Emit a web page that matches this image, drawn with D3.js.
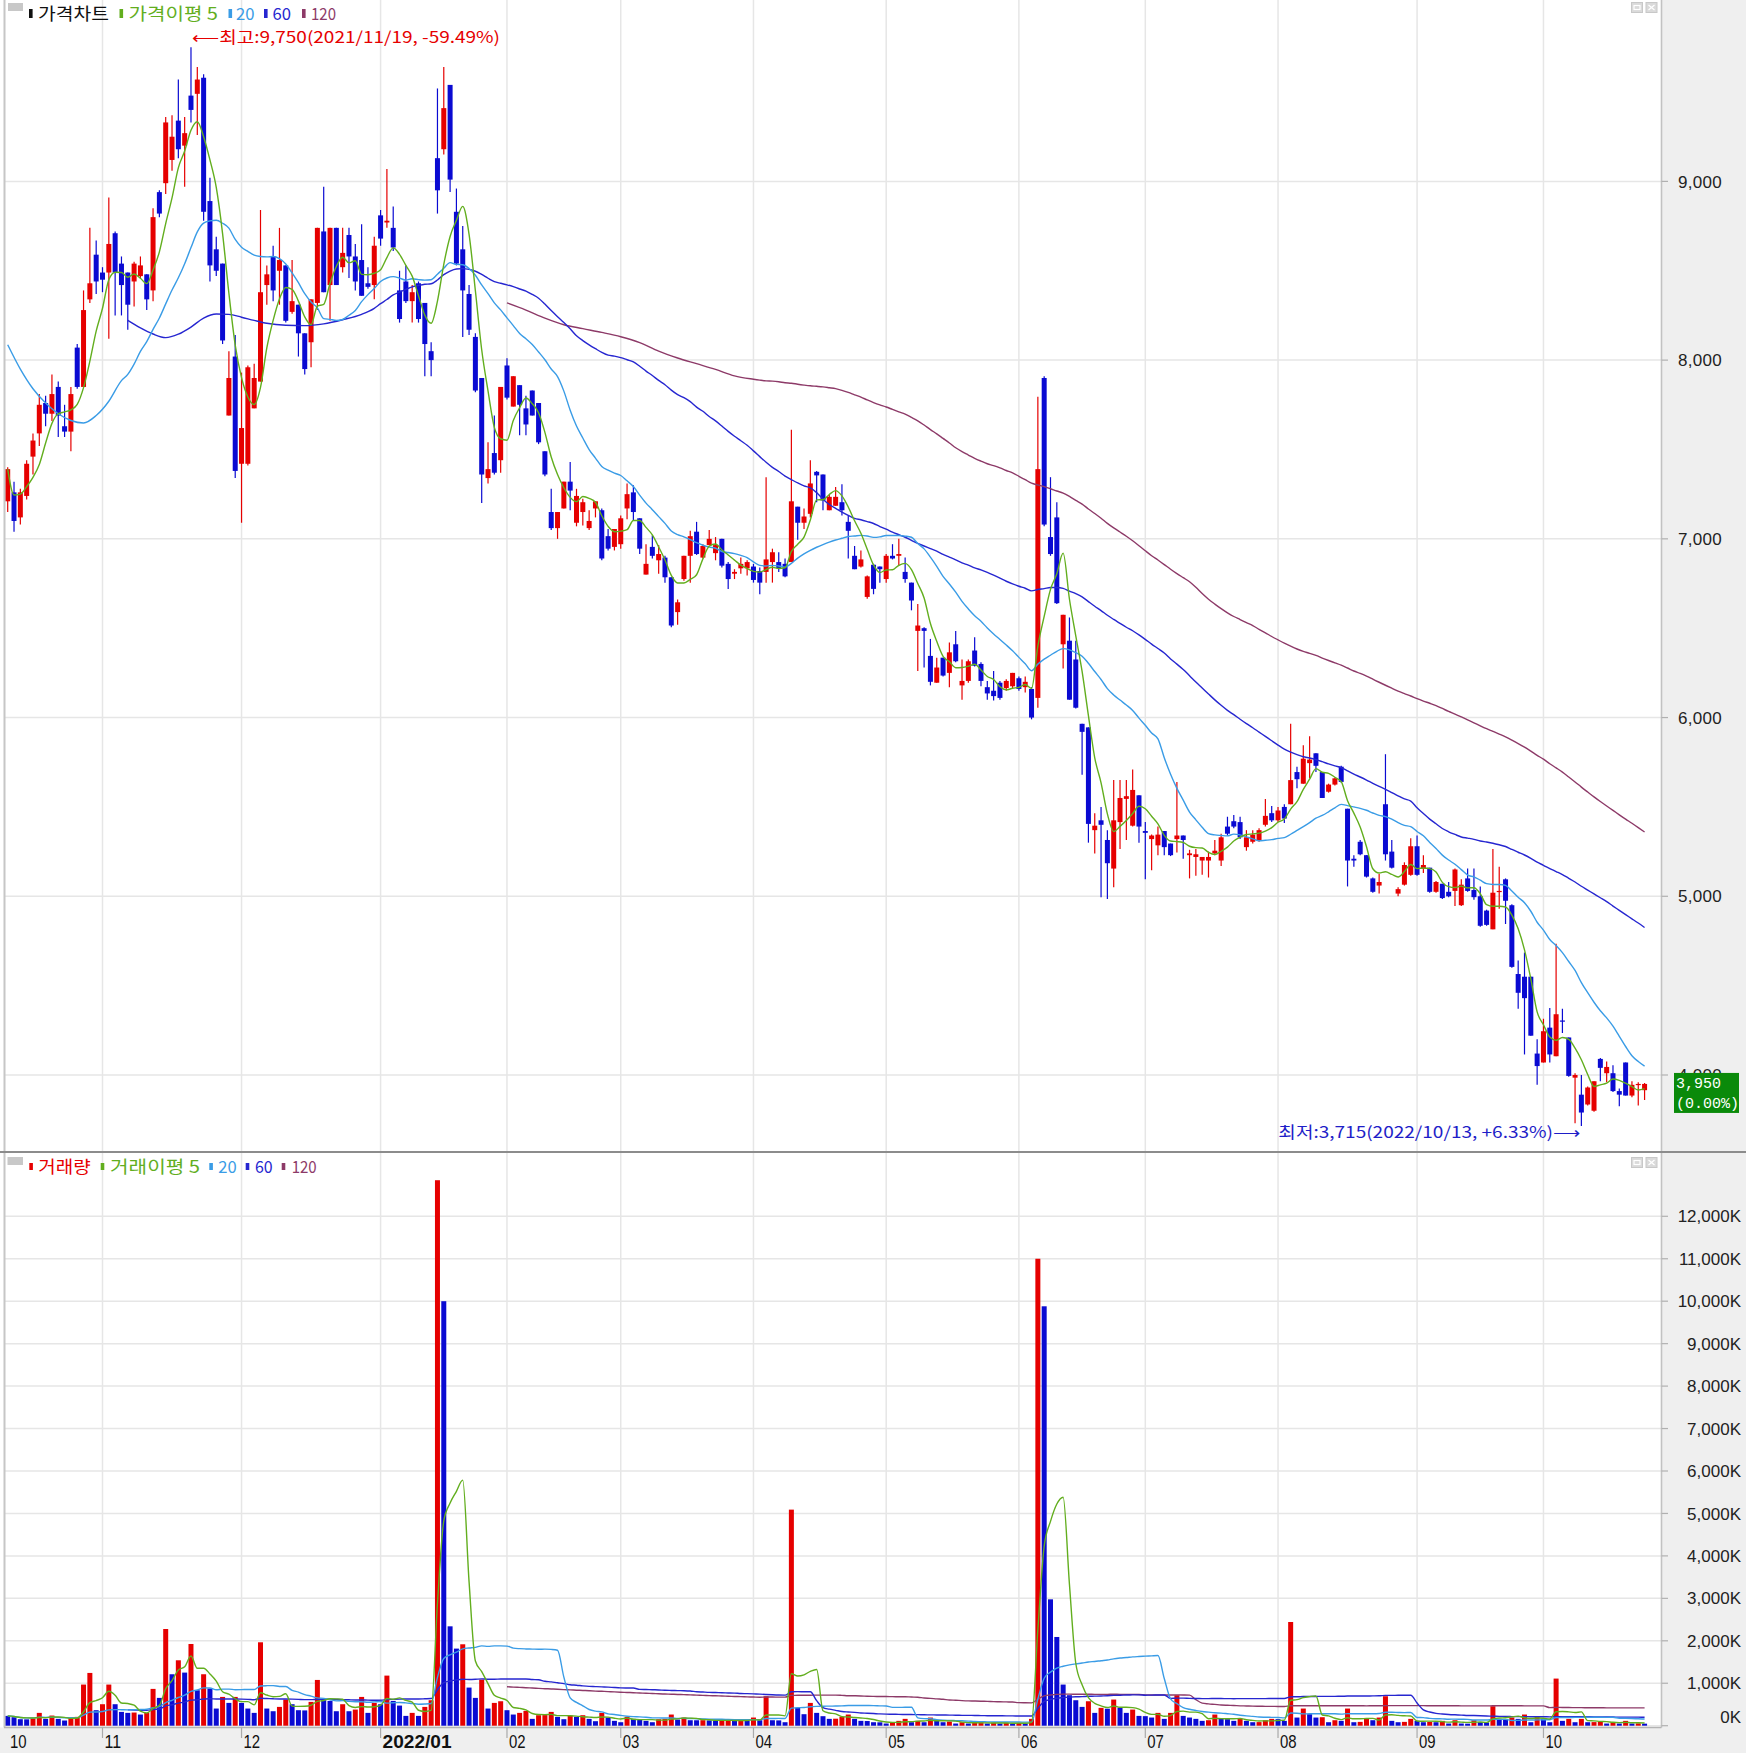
<!DOCTYPE html>
<html>
<head>
<meta charset="utf-8">
<script src="https://cdn.jsdelivr.net/npm/d3@7"></script>
<style>
  html, body { margin: 0; padding: 0; background: #ffffff; }
  svg { display: block; }
</style>
</head>
<body>
<svg id="chart" width="1746" height="1753"></svg>
<script>
// ---- daily candles, 2021/10/08 .. 2022/10/27 (one entry per trading day) ----
const open = [
  7210,7260,7120,7240,7460,7590,7760,7700,7850,7630, 7600,8070,7850,8340,8590,8490,8490,8710,8540,8490,
  8440,8470,8480,8390,8940,8990,9120,9340,9200,9480, 9490,9580,8890,8620,8540,7690,8020,7420,7420,7730,
  7880,8420,8580,8500,8530,8270,8310,8150,8100,8320, 8720,8420,8740,8520,8700,8580,8560,8430,8420,8810,
  8770,8740,8390,8440,8330,8430,8320,8050,9130,9180, 9540,8830,8620,8370,8130,7900,7340,7480,7440,7970,
  7740,7860,7730,7830,7760,7490,7150,7060,7170,7320, 7090,7150,7060,7170,7160,7015,6955,6970,7170,7260,
  7115,6800,6955,6880,6895,6785,6590,6775,6905,7040, 6895,6965,6920,7000,6860,6805,6835,6835,6845,6820,
  6815,6870,6870,6860,6870,7180,7090,7140,7375,7360, 7160,7185,7205,7095,6905,6845,6675,6855,6845,6775,
  6905,6905,6815,6755,6485,6500,6345,6195,6335,6250, 6410,6180,6205,6375,6300,6170,6150,6195,6165,6175,
  6220,6170,6160,6110,7900,7010,7120,6410,6430,6325, 5965,5945,5370,5425,5315,5155,5415,5545,5395,5565,
  5365,5320,5285,5365,5295,5320,5340,5230,5220,5200, 5200,5240,5200,5390,5420,5415,5275,5305,5315,5400,
  5465,5425,5500,5515,5695,5630,5745,5800,5695,5585, 5625,5725,5490,5210,5305,5230,5100,5060,5515,5250,
  5015,5065,5120,5280,5155,5160,5025,5070,5025,5030, 4950,5100,5035,5000,4920,4815,5025,5095,4950,4565,
  4550,4550,4120,4070,4265,4105,4305,4210,3985,3890, 3835,3800,4090,4010,4010,3910,4070,3885,3945,3915
];
const high = [
  7400,7320,7280,7440,7590,7810,7800,7920,7880,7750, 7850,8090,8390,8740,8670,8520,8910,8720,8580,8490,
  8550,8580,8480,8850,8950,9360,9370,9570,9360,9750, 9640,9600,9020,8690,8540,8050,8140,7930,7970,7980,
  8840,8530,8640,8740,8530,8560,8310,8150,8340,8740, 8970,8740,8740,8740,8740,8650,8760,8520,8690,8840,
  9070,8860,8500,8530,8420,8440,8320,8100,9520,9640, 9540,8960,8750,8420,8150,7900,7540,7690,7850,8010,
  7910,7860,7800,7830,7760,7490,7280,7150,7320,7430, 7280,7225,7160,7210,7170,7055,7055,7130,7310,7300,
  7115,6970,7020,6965,6905,6785,6660,6905,7045,7095, 6970,7050,7010,7000,6870,6830,6895,6880,6860,6840,
  7345,6945,6925,6890,7610,7180,7170,7440,7380,7360, 7245,7290,7305,7130,6960,6935,6795,6860,6845,6915,
  6970,7000,6895,6755,6635,6505,6440,6335,6335,6420, 6485,6325,6325,6450,6310,6205,6260,6205,6215,6250,
  6230,6230,6170,7795,7910,7345,7205,6575,6560,6430, 5965,5945,5465,5500,5370,5650,5650,5650,5710,5565,
  5415,5345,5390,5365,5295,5640,5340,5260,5265,5220, 5250,5315,5350,5445,5455,5445,5370,5370,5380,5545,
  5505,5500,5515,5965,5725,5845,5895,5800,5695,5630, 5665,5730,5490,5230,5315,5230,5105,5125,5795,5315,
  5050,5190,5325,5340,5230,5160,5085,5070,5080,5155, 5095,5155,5155,5055,4925,5265,5165,5100,4955,4640,
  4685,4550,4200,4315,4375,4735,4370,4210,4010,4000, 3935,3965,4095,4075,4055,3925,4070,3965,3960,3955
];
const low = [
  7150,7040,7080,7220,7360,7520,7630,7660,7570,7570, 7490,7840,7850,8320,8370,8380,8120,8250,8250,8170,
  8300,8460,8280,8330,8800,8930,9060,9130,8970,9330, 9260,8780,8440,8470,8090,7690,7340,7090,7410,7730,
  7880,8310,8330,8310,8210,8260,8020,7920,7960,8280, 8380,8220,8420,8490,8460,8390,8360,8400,8340,8640,
  8740,8610,8210,8320,8210,8210,7910,7910,8820,9150, 8940,8530,8130,8140,7820,7200,7310,7360,7370,7780,
  7740,7580,7580,7690,7530,7350,7050,7000,7170,7160, 7070,7075,7050,7120,6880,6935,6935,6945,7110,7100,
  6915,6800,6890,6805,6755,6505,6520,6765,6755,6910, 6890,6965,6880,6840,6720,6775,6805,6795,6755,6690,
  6755,6755,6815,6785,6870,6995,7055,7120,7205,7160, 7160,7185,7130,6890,6830,6840,6665,6690,6755,6755,
  6885,6850,6755,6600,6260,6280,6180,6195,6230,6170, 6310,6100,6195,6285,6175,6100,6095,6100,6150,6165,
  6150,6140,5990,6055,7070,6905,6635,6275,6100,6050, 5680,5300,5240,4995,4985,5050,5265,5315,5390,5300,
  5095,5145,5230,5230,5225,5245,5210,5100,5115,5120, 5105,5230,5170,5340,5380,5320,5255,5295,5305,5390,
  5415,5415,5410,5515,5605,5630,5660,5695,5550,5580, 5620,5635,5055,5165,5230,5105,5020,5015,5200,5155,
  5000,5060,5115,5115,5130,5020,5020,4985,4995,4945, 4945,5025,4980,4830,4835,4815,4930,4845,4600,4370,
  4115,4220,3945,4070,4070,4105,4235,3990,3730,3715, 3830,3795,3965,3960,3905,3825,3885,3875,3830,3860
];
const close = [
  7390,7100,7260,7420,7550,7750,7700,7810,7690,7600, 7810,7850,8280,8430,8440,8450,8650,8490,8420,8310,
  8540,8530,8340,8800,8820,9330,9250,9180,9270,9400, 9570,8830,8530,8500,8110,7900,7380,7620,7960,7900,
  8380,8480,8390,8560,8220,8330,8150,7950,8340,8740, 8380,8740,8420,8600,8580,8440,8360,8410,8640,8680,
  8780,8630,8230,8330,8380,8230,8090,8000,8950,9410, 9010,8540,8390,8170,7830,7360,7390,7370,7850,7790,
  7910,7750,7640,7690,7540,7360,7060,7150,7320,7270, 7240,7205,7100,7210,6890,6945,7055,7115,7250,7150,
  6945,6860,6905,6915,6785,6515,6645,6905,7015,6915, 6960,7000,6965,6850,6775,6815,6860,6870,6770,6755,
  6885,6925,6835,6790,7210,7090,7125,7310,7355,7215, 7235,7235,7160,7045,6830,6885,6790,6720,6830,6905,
  6890,6915,6775,6655,6515,6485,6200,6280,6235,6365, 6315,6205,6315,6290,6205,6135,6120,6110,6205,6250,
  6160,6200,6000,7390,7080,6915,6640,6575,6100,6055, 5920,5405,5395,5400,5185,5425,5550,5560,5595,5390,
  5355,5340,5345,5275,5230,5340,5315,5240,5235,5220, 5220,5255,5330,5350,5390,5330,5330,5345,5370,5450,
  5425,5480,5435,5650,5655,5770,5765,5730,5550,5625, 5660,5640,5200,5200,5235,5110,5025,5080,5235,5160,
  5040,5175,5280,5120,5175,5025,5080,4990,5000,5150, 5065,5030,4995,4835,4840,5020,5030,4975,4605,4460,
  4430,4220,4050,4245,4115,4340,4300,3995,4000,3790, 3930,3965,4040,4045,3910,3890,3885,3945,3950,3950
];
// traded volume, thousands of shares
const volume = [
  231,200,153,150,169,302,161,239,161,122, 176,208,969,1243,365,506,969,506,325,302,
  310,263,302,867,655,2278,1212,1541,1251,1925, 835,1212,875,404,678,537,678,537,404,302,
  1965,404,341,443,616,506,365,360,561,1078, 600,584,341,506,341,380,678,302,537,506,
  1180,584,474,231,302,231,443,600,12850,10000, 2341,1816,1918,898,655,1086,404,537,576,365,
  263,302,349,161,247,250,325,208,153,239, 208,247,161,106,302,192,114,82,208,161,
  145,114,82,153,161,263,145,192,129,128, 130,125,114,129,135,114,129,114,192,129,
  694,129,125,82,5090,427,271,537,302,224, 161,165,208,263,161,114,110,82,80,51,
  67,114,161,82,114,82,192,114,82,98, 51,82,51,67,82,51,67,51,67,51,
  67,51,161,11000,9880,2977,2090,969,718,600, 443,576,302,420,400,616,427,302,380,231,
  225,192,302,161,302,718,231,192,161,114, 129,263,161,155,114,161,114,82,85,129,
  161,155,114,2443,192,404,271,192,200,82, 129,114,404,82,90,161,129,192,694,114,
  82,90,161,114,82,90,82,114,51,129, 51,48,129,82,78,459,161,155,192,161,
  263,82,208,161,82,1110,114,161,82,161, 82,85,98,51,82,51,114,51,55,48
];

// month boundaries (index of first trading day) and their axis labels
const monthStart = [15, 37, 59, 79, 97, 118, 139, 160, 180, 201, 223, 243];
const monthLabel = ["11", "12", "2022/01", "02", "03", "04", "05", "06", "07", "08", "09", "10"];
const firstMonthLabel = "10";
const yearMonthLabel = "2022/01";

const priceTicks = [4000, 5000, 6000, 7000, 8000, 9000];
const volumeTicks = [0, 1000, 2000, 3000, 4000, 5000, 6000, 7000, 8000, 9000, 10000, 11000, 12000];

// moving-average values before a full window of history is on screen: [index, value]
const ma20Lead = [[0, 8086], [2, 7950], [4, 7840], [6, 7760], [8, 7700], [10, 7662], [12, 7648], [14, 7690], [16, 7770], [18, 7885]];
const ma60Lead = [[19, 8222], [21, 8180], [23, 8146], [25, 8126], [27, 8145], [29, 8185], [31, 8235], [33, 8258], [35, 8256],
                  [37, 8240], [39, 8222], [41, 8206], [44, 8195], [47, 8193], [50, 8203], [53, 8226], [56, 8256], [58, 8290]];
const ma120Lead = [[79, 8320], [82, 8280], [85, 8235], [88, 8198], [91, 8176], [94, 8155], [97, 8131], [100, 8098],
                   [103, 8050], [106, 8012], [109, 7980], [112, 7948], [115, 7912], [118, 7893]];

const highIndex = 29, highValue = 9750, highDate = "2021/11/19", highPct = "-59.49%";
const lowIndex = 249, lowValue = 3715, lowDate = "2022/10/13", lowPct = "+6.33%";
const lastPct = "0.00%";

// ---- colours ----
const UP = "#e60000", DOWN = "#0a0ad2";
const C_MA5 = "#62ae1e", C_MA20 = "#3a9ce6", C_MA60 = "#2626d0", C_MA120 = "#8d3a68";
const GRID = "#e6e6e6", AXIS_BG = "#efefef";

const svg = d3.select("#chart");
const fmt = d3.format(",");

// ---- scales ----
const n = close.length;
const x = d3.scaleLinear().domain([0, n - 1]).range([7.7, 7.7 + 6.32 * (n - 1)]);
const yP = d3.scaleLinear().domain([4000, 9000]).range([1075, 181.4]);
const yV = d3.scaleLinear().domain([0, 12000]).range([1725.7, 1216.3]);

const plotL = 5, plotR = 1661.5;
const priceB = 1151, volT = 1153, volB = 1727.5;

// ---- backgrounds and frame ----
svg.append("rect").attr("x", 0).attr("y", 0).attr("width", 1746).attr("height", 1753).attr("fill", "#ffffff");
svg.append("rect").attr("x", plotR).attr("y", 0).attr("width", 1746 - plotR).attr("height", 1753).attr("fill", AXIS_BG);
svg.append("rect").attr("x", 0).attr("y", volB).attr("width", 1746).attr("height", 1753 - volB).attr("fill", AXIS_BG);

const grid = svg.append("g").attr("stroke", GRID).attr("stroke-width", 1.5);
// month grid lines
monthStart.forEach(i => {
  grid.append("line").attr("x1", x(i)).attr("x2", x(i)).attr("y1", 0).attr("y2", priceB);
  grid.append("line").attr("x1", x(i)).attr("x2", x(i)).attr("y1", volT).attr("y2", volB);
});
// price grid
priceTicks.forEach(v => grid.append("line").attr("x1", plotL).attr("x2", plotR).attr("y1", yP(v)).attr("y2", yP(v)));
// volume grid
volumeTicks.forEach(v => grid.append("line").attr("x1", plotL).attr("x2", plotR).attr("y1", yV(v)).attr("y2", yV(v)));

// ---- price panel: candles ----
const priceClip = svg.append("clipPath").attr("id", "pclip");
priceClip.append("rect").attr("x", plotL).attr("y", 0).attr("width", plotR - plotL).attr("height", priceB);
const pg = svg.append("g").attr("clip-path", "url(#pclip)");

function candleColor(i) {
  if (close[i] > open[i]) return UP;
  if (close[i] < open[i]) return DOWN;
  return (i > 0 && close[i] < close[i - 1]) ? DOWN : UP;
}
const idx = d3.range(n);
pg.append("g").selectAll("line").data(idx).join("line")
  .attr("x1", i => x(i)).attr("x2", i => x(i))
  .attr("y1", i => yP(high[i])).attr("y2", i => yP(low[i]))
  .attr("stroke", candleColor).attr("stroke-width", 1.2);
pg.append("g").selectAll("rect").data(idx).join("rect")
  .attr("x", i => x(i) - 2.5).attr("width", 5)
  .attr("y", i => yP(Math.max(open[i], close[i])))
  .attr("height", i => Math.max(1.2, Math.abs(yP(open[i]) - yP(close[i]))))
  .attr("fill", candleColor);

// ---- moving averages ----
function maSeries(values, len, from, lead) {
  const pts = lead ? lead.slice() : [];
  for (let i = from; i < values.length; i++) {
    if (i < len - 1 && lead) continue;
    const a = Math.max(0, i - len + 1);
    pts.push([i, d3.mean(values.slice(a, i + 1))]);
  }
  return pts;
}
const lineP = d3.line().x(d => x(d[0])).y(d => yP(d[1])).curve(d3.curveMonotoneX);
const lineV = d3.line().x(d => x(d[0])).y(d => yV(d[1])).curve(d3.curveMonotoneX);

[[maSeries(close, 120, 79, ma120Lead), C_MA120],
 [maSeries(close, 60, 19, ma60Lead), C_MA60],
 [maSeries(close, 20, 0, ma20Lead), C_MA20],
 [maSeries(close, 5, 0, null), C_MA5]].forEach(([pts, c]) => {
  pg.append("path").attr("d", lineP(pts)).attr("fill", "none").attr("stroke", c).attr("stroke-width", 1.4);
});

// ---- volume panel ----
const vg = svg.append("g");
function volColor(i) { return (i > 0 && volume[i] > volume[i - 1]) ? UP : DOWN; }
vg.append("g").selectAll("rect").data(idx).join("rect")
  .attr("x", i => x(i) - 2.5).attr("width", 5)
  .attr("y", i => yV(volume[i]))
  .attr("height", i => yV(0) - yV(volume[i]))
  .attr("fill", volColor);

[[maSeries(volume, 120, 79, null), C_MA120],
 [maSeries(volume, 60, 19, null), C_MA60],
 [maSeries(volume, 20, 0, null), C_MA20],
 [maSeries(volume, 5, 0, null), C_MA5]].forEach(([pts, c]) => {
  vg.append("path").attr("d", lineV(pts)).attr("fill", "none").attr("stroke", c).attr("stroke-width", 1.4);
});

// ---- frame lines ----
svg.append("line").attr("x1", 4.5).attr("x2", 4.5).attr("y1", 0).attr("y2", volB).attr("stroke", "#c6c6c6").attr("stroke-width", 2);
svg.append("line").attr("x1", plotR).attr("x2", plotR).attr("y1", 0).attr("y2", volB).attr("stroke", "#c2c2c2").attr("stroke-width", 1.6);
svg.append("line").attr("x1", 0).attr("x2", 1746).attr("y1", 1152).attr("y2", 1152).attr("stroke", "#8c8c8c").attr("stroke-width", 2);
svg.append("line").attr("x1", 4).attr("x2", plotR).attr("y1", volB).attr("y2", volB).attr("stroke", "#b4b4b4").attr("stroke-width", 1.5);

// ---- right axes ----
const ax = svg.append("g");
priceTicks.forEach(v => {
  ax.append("line").attr("x1", plotR).attr("x2", 1668).attr("y1", yP(v)).attr("y2", yP(v)).attr("stroke", "#b0b0b0").attr("stroke-width", 1.2);
  ax.append("text").attr("x", 1678).attr("y", yP(v)).attr("dy", "0.36em")
    .attr("font-family", "Liberation Sans, Arial, sans-serif").attr("font-size", 17).attr("fill", "#222")
    .attr("letter-spacing", "0.3").text(fmt(v));
});
volumeTicks.forEach(v => {
  ax.append("line").attr("x1", plotR).attr("x2", 1668).attr("y1", yV(v)).attr("y2", yV(v)).attr("stroke", "#b0b0b0").attr("stroke-width", 1.2);
  ax.append("text").attr("x", 1741).attr("y", Math.min(yV(v), 1717)).attr("dy", "0.36em").attr("text-anchor", "end")
    .attr("font-family", "Liberation Sans, Arial, sans-serif").attr("font-size", 17).attr("fill", "#222")
    .text(fmt(v) + "K");
});

// last price tag
const lastY = yP(close[n - 1]);
ax.append("rect").attr("x", 1674).attr("y", lastY - 11).attr("width", 65).attr("height", 40).attr("fill", "#0a8a0a");
ax.append("text").attr("x", 1676).attr("y", lastY - 1).attr("dy", "0.36em")
  .attr("font-family", "Liberation Mono, DejaVu Sans Mono, monospace").attr("font-size", 15).attr("fill", "#fff")
  .text(fmt(close[n - 1]));
ax.append("text").attr("x", 1676).attr("y", lastY + 18.5).attr("dy", "0.36em")
  .attr("font-family", "Liberation Mono, DejaVu Sans Mono, monospace").attr("font-size", 15).attr("fill", "#fff")
  .text("(" + lastPct + ")");

// ---- bottom month axis ----
const bx = svg.append("g").attr("font-family", "Liberation Sans, Arial, sans-serif").attr("fill", "#111");
monthStart.forEach((i, k) => {
  bx.append("line").attr("x1", x(i)).attr("x2", x(i)).attr("y1", volB).attr("y2", 1738).attr("stroke", "#aaa").attr("stroke-width", 1.2);
  const bold = monthLabel[k] === yearMonthLabel;
  bx.append("text").attr("x", x(i) + 2).attr("y", 1748)
    .attr("font-size", 19).attr("font-weight", bold ? "bold" : "normal")
    .attr("textLength", bold ? 69 : 8.3 * monthLabel[k].length).attr("lengthAdjust", "spacingAndGlyphs")
    .text(monthLabel[k]);
});
bx.append("text").attr("x", 10).attr("y", 1748).attr("font-size", 19)
  .attr("textLength", 16.6).attr("lengthAdjust", "spacingAndGlyphs").text(firstMonthLabel);

// ---- legends ----
const KR = "Noto Sans CJK KR, sans-serif";
function legend(y, items) {
  const g = svg.append("g");
  items.forEach(([mx, mh, tx, tw, label, color]) => {
    g.append("rect").attr("x", mx).attr("y", y - mh / 2).attr("width", 3.6).attr("height", mh).attr("fill", color);
    g.append("text").attr("x", tx).attr("y", y).attr("dy", "0.36em").attr("font-family", KR).attr("font-size", 17)
      .attr("fill", color).attr("textLength", tw).attr("lengthAdjust", "spacingAndGlyphs").text(label);
  });
}
svg.append("rect").attr("x", 8).attr("y", 3).attr("width", 15).attr("height", 8).attr("fill", "#c8c8c8");
legend(13.5, [
  [29, 9, 38, 71, "가격차트", "#111111"],
  [119.5, 9, 128.5, 89.5, "가격이평 5", C_MA5],
  [228.5, 9, 236, 18.5, "20", C_MA20],
  [264, 9, 272.5, 18.5, "60", C_MA60],
  [302, 9, 311, 25, "120", C_MA120]
]);
svg.append("rect").attr("x", 7.5).attr("y", 1157).attr("width", 15.5).attr("height", 8).attr("fill", "#c8c8c8");
legend(1166.5, [
  [29.3, 7, 38.3, 52.4, "거래량", UP],
  [100.7, 7, 110, 90, "거래이평 5", C_MA5],
  [209.3, 7, 218.3, 18.4, "20", C_MA20],
  [245.7, 7, 255, 17.7, "60", C_MA60],
  [281.7, 7, 291.7, 25, "120", C_MA120]
]);

// window buttons (top right of each panel)
function buttons(y0) {
  const g = svg.append("g");
  g.append("rect").attr("x", 1631.5).attr("y", y0).attr("width", 11).attr("height", 10).attr("fill", "#dadada").attr("stroke", "#c8c8c8");
  g.append("rect").attr("x", 1634).attr("y", y0 + 3).attr("width", 6).attr("height", 4).attr("fill", "none").attr("stroke", "#ffffff").attr("stroke-width", 1.2);
  g.append("rect").attr("x", 1646).attr("y", y0).attr("width", 11).attr("height", 10).attr("fill", "#dadada").attr("stroke", "#c8c8c8");
  g.append("path").attr("d", `M1648.5,${y0 + 2.5}L1654.5,${y0 + 7.5}M1654.5,${y0 + 2.5}L1648.5,${y0 + 7.5}`).attr("stroke", "#ffffff").attr("stroke-width", 1.3);
}
buttons(2.5);
buttons(1157.5);

// ---- high / low annotations ----
svg.append("text").attr("x", x(highIndex) + 1).attr("y", 37.5).attr("dy", "0.36em")
  .attr("font-family", KR).attr("font-size", 16).attr("fill", UP)
  .attr("textLength", 308).attr("lengthAdjust", "spacingAndGlyphs")
  .text("⟵최고:" + fmt(highValue) + "(" + highDate + ", " + highPct + ")");
const lowText = "최저:" + fmt(lowValue) + "(" + lowDate + ", " + lowPct + ")⟶";
svg.append("text").attr("x", x(lowIndex) - 1).attr("y", 1132.5).attr("dy", "0.36em").attr("text-anchor", "end")
  .attr("font-family", KR).attr("font-size", 16).attr("fill", "#1e1ec8")
  .attr("textLength", 302).attr("lengthAdjust", "spacingAndGlyphs")
  .text(lowText);
</script>
</body>
</html>
